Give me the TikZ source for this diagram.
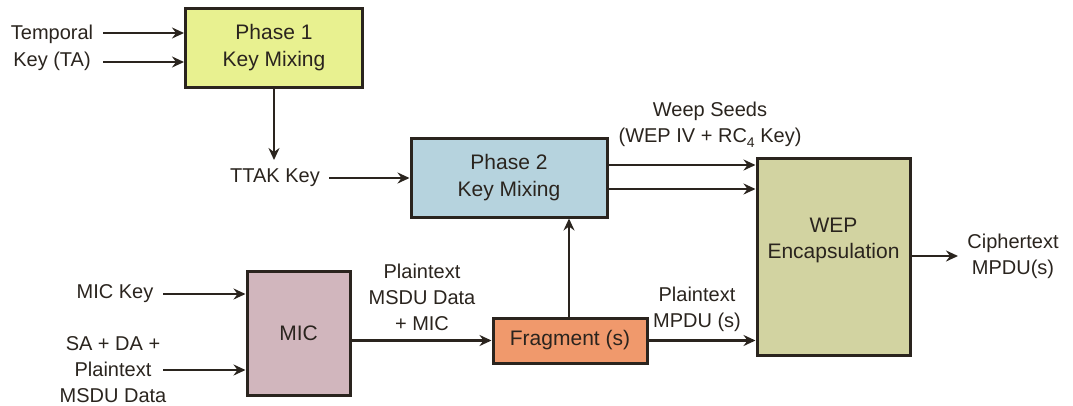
\documentclass[tikz,border=0pt]{standalone}
\usepackage{fontspec}
\setmainfont{Liberation Sans}
\usetikzlibrary{arrows.meta}
\definecolor{ink}{HTML}{2A241E}
\definecolor{pone}{HTML}{E8F190}
\definecolor{ptwo}{HTML}{B6D3DE}
\definecolor{wepc}{HTML}{D2D3A1}
\definecolor{micc}{HTML}{D1B6BD}
\definecolor{fragc}{HTML}{F0996C}
\tikzset{
  blk/.style={draw=ink, line width=3pt, text=ink, align=center,
    inner sep=0pt, font=\fontsize{21}{27}\selectfont},
  lbl/.style={text=ink, align=center, inner sep=0pt,
    font=\fontsize{20}{26}\selectfont},
  arr/.style={draw=ink, line width=2.8pt,
    -{Stealth[length=12pt, width=11pt, inset=4pt]}}
}
\begin{document}
\begin{tikzpicture}[x=1pt, y=-1pt]
\useasboundingbox (0,0) rectangle (1073,405);

% processing blocks
\node[blk, fill=pone, minimum width=177pt, minimum height=79pt] (p1) at (274,47.5) {Phase 1\\Key Mixing};
\node[blk, fill=ptwo, minimum width=196pt, minimum height=79pt] (p2) at (509,177.5) {Phase 2\\Key Mixing};
\node[blk, fill=wepc, minimum width=153pt, minimum height=197pt] (wep) at (833.5,256.5) {};
\node[lbl, font=\fontsize{21}{26}\selectfont] (weptxt) at (833.5,240) {WEP\\Encapsulation};
\node[blk, fill=micc, minimum width=103pt, minimum height=124pt] (mic) at (298.5,333) {MIC};
\node[blk, fill=fragc, minimum width=154pt, minimum height=45pt] (frag) at (570,340.5) {Fragment (s)};

% labels
\node[lbl, font=\fontsize{20}{27}\selectfont] (tk) at (52,48) {Temporal\\Key (TA)};
\node[lbl] (ttak) at (275,178) {TTAK Key};
\node[lbl] (seeds) at (710,125) {Weep Seeds\\(WEP IV + RC{\fontsize{14}{14}\selectfont\raisebox{-5pt}{4}} Key)};
\node[lbl] (ct) at (1013,256) {Ciphertext\\MPDU(s)};
\node[lbl] (mpdu) at (697,309.5) {Plaintext\\MPDU (s)};
\node[lbl] (msdu) at (422,297.5) {Plaintext\\MSDU Data\\+ MIC};
\node[lbl] (mick) at (115,294) {MIC Key};
\node[lbl] (sada) at (113,370) {SA + DA +\\Plaintext\\MSDU Data};

% free ends of the input arrows
\coordinate (tka) at (103,33);
\coordinate (tkb) at (103,62);
\coordinate (ttakend) at (329,178);
\coordinate (micka) at (163,294);
\coordinate (sadaa) at (163,370);
\coordinate (p1down) at (274,160);
\coordinate (seedsa) at (607,165);
\coordinate (seedsb) at (607,189);
\coordinate (ctend) at (958,256);

% connectors
\draw[arr] (tka) -- (tka -| p1.west);
\draw[arr] (tkb) -- (tkb -| p1.west);
\draw[arr] (p1.south) -- (p1down);
\draw[arr] (ttakend) -- (ttakend -| p2.west);
\draw[arr] (seedsa) -- (seedsa -| wep.west);
\draw[arr] (seedsb) -- (seedsb -| wep.west);
\draw[arr] (wep.east |- ctend) -- (ctend);
\draw[arr] (micka) -- (micka -| mic.west);
\draw[arr] (sadaa) -- (sadaa -| mic.west);
\draw[arr] (mic.east |- frag.west) -- (frag.west);
\draw[arr] (frag.east) -- (frag.east -| wep.west);
\draw[arr] (frag.north -| 569,0) -- (p2.south -| 569,0);
\end{tikzpicture}
\end{document}
